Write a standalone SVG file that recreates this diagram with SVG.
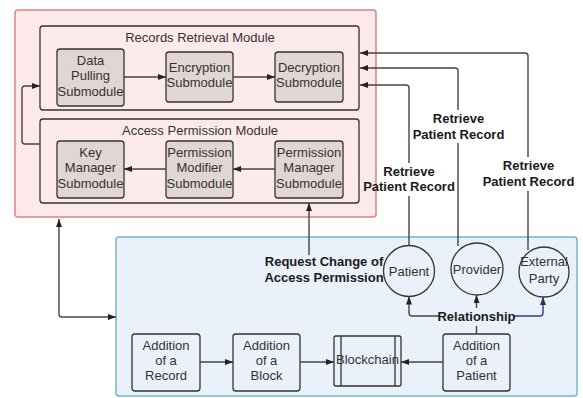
<svg xmlns="http://www.w3.org/2000/svg" width="583" height="398" viewBox="0 0 583 398">
<defs>
<marker id="ah" viewBox="0 0 8 6" refX="8" refY="3" markerWidth="8" markerHeight="6" markerUnits="userSpaceOnUse" orient="auto-start-reverse">
<path d="M0,0 L8,3 L0,6 z" fill="#222"/>
</marker>
<marker id="ahb" viewBox="0 0 8 6" refX="8" refY="3" markerWidth="8" markerHeight="6" markerUnits="userSpaceOnUse" orient="auto">
<path d="M0,0 L8,3 L0,6 z" fill="#2a2f6e"/>
</marker>
</defs>
<style>
text{font-family:"Liberation Sans",Arial,sans-serif;font-size:13px;fill:#333;text-anchor:middle}
.b{font-weight:bold;fill:#1a1a1a}
.mod{fill:#fdeaea;stroke:#333;stroke-width:1.3}
.sub{fill:#e2d6d4;stroke:#333;stroke-width:1.3}
.bn{fill:#eaf1fa;stroke:#333;stroke-width:1.3}
.c{fill:none;stroke:#444;stroke-width:1.4;marker-end:url(#ah)}
.l{fill:none;stroke:#444;stroke-width:1.4}
</style>
<rect id="outer" x="15" y="10" width="361" height="207" rx="3" fill="#fde9ea" stroke="#e08088" stroke-width="1.5"/>
<rect id="blue" x="116" y="237" width="461" height="159" rx="3" fill="#eaf1fa" stroke="#6fb6d2" stroke-width="1.5"/>

<g id="records-module">
<rect class="mod" x="40" y="26" width="319" height="84" rx="3"/>
<text x="200" y="42">Records Retrieval Module</text>
</g>
<g id="access-module">
<rect class="mod" x="40" y="119" width="319" height="84" rx="3"/>
<text x="200" y="134.5">Access Permission Module</text>
</g>
<g id="data-pulling">
<rect class="sub" x="57" y="49" width="67" height="57" rx="3"/>
<text x="90.5" y="64.5">Data</text><text x="90.5" y="80">Pulling</text><text x="90.5" y="95.5">Submodule</text>
</g>
<g id="encryption">
<rect class="sub" x="166" y="52" width="67" height="50" rx="3"/>
<text x="199.5" y="72">Encryption</text><text x="199.5" y="87">Submodule</text>
</g>
<g id="decryption">
<rect class="sub" x="275" y="52" width="68" height="50" rx="3"/>
<text x="309" y="72">Decryption</text><text x="309" y="87">Submodule</text>
</g>
<g id="key-manager">
<rect class="sub" x="57" y="141" width="67" height="57" rx="3"/>
<text x="90.5" y="157">Key</text><text x="90.5" y="172">Manager</text><text x="90.5" y="187.5">Submodule</text>
</g>
<g id="permission-modifier">
<rect class="sub" x="166" y="141" width="67" height="57" rx="3"/>
<text x="199.5" y="157">Permission</text><text x="199.5" y="172">Modifier</text><text x="199.5" y="187.5">Submodule</text>
</g>
<g id="permission-manager">
<rect class="sub" x="275" y="141" width="68" height="57" rx="3"/>
<text x="309" y="157">Permission</text><text x="309" y="172">Manager</text><text x="309" y="187.5">Submodule</text>
</g>

<g id="add-record">
<rect class="bn" x="132" y="334" width="68" height="57" rx="3"/>
<text x="166" y="349.5">Addition</text><text x="166" y="365">of a</text><text x="166" y="380">Record</text>
</g>
<g id="add-block">
<rect class="bn" x="233" y="334" width="67" height="57" rx="3"/>
<text x="266.5" y="349.5">Addition</text><text x="266.5" y="365">of a</text><text x="266.5" y="380">Block</text>
</g>
<g id="blockchain">
<rect class="bn" x="334" y="336" width="67" height="50" rx="2"/>
<line x1="341" y1="336" x2="341" y2="386" stroke="#333" stroke-width="1.3"/>
<line x1="395" y1="336" x2="395" y2="386" stroke="#333" stroke-width="1.3"/>
<text x="367.5" y="364">Blockchain</text>
</g>
<g id="add-patient">
<rect class="bn" x="443" y="334" width="67" height="57" rx="3"/>
<text x="476.5" y="349.5">Addition</text><text x="476.5" y="365">of a</text><text x="476.5" y="380">Patient</text>
</g>
<g id="patient">
<circle class="bn" cx="409" cy="271" r="25.5"/>
<text x="409" y="275.5">Patient</text>
</g>
<g id="provider">
<circle class="bn" cx="477" cy="269" r="26"/>
<text x="477" y="273.5">Provider</text>
</g>
<g id="external">
<circle class="bn" cx="544" cy="272" r="25"/>
<text x="544" y="266">External</text><text x="544" y="283">Party</text>
</g>

<g id="connectors">
<line class="c" x1="124" y1="77" x2="166" y2="77"/>
<line class="c" x1="233" y1="77" x2="275" y2="77"/>
<line class="c" x1="275" y1="169" x2="233" y2="169"/>
<line class="c" x1="166" y1="169" x2="124" y2="169"/>
<path class="c" d="M40,144 H25 Q22,144 22,141 V89 Q22,86 25,86 H40"/>
<path class="c" d="M59,219 V314 Q59,317 62,317 H116" marker-start="url(#ah)"/>
<path class="c" d="M409,245.5 V196 M409,163 V88 Q409,85 406,85 H360"/>
<path class="c" d="M458,246 V143 M458,110 V71 Q458,68 455,68 H360"/>
<path class="c" d="M528,250 V191 M528,157 V56 Q528,53 525,53 H360"/>
<line class="c" x1="309" y1="255" x2="309" y2="203"/>
<line class="c" x1="200" y1="362" x2="233" y2="362"/>
<line class="c" x1="300" y1="362" x2="334" y2="362"/>
<line class="c" x1="443" y1="362" x2="401" y2="362"/>
<line class="l" x1="476.5" y1="334" x2="476.5" y2="326"/>
<line class="c" x1="476.5" y1="308" x2="476.5" y2="295"/>
<path class="c" d="M440,316 H412 Q409,316 409,313 V296.5"/>
<path d="M513,316 H540 Q543,316 543,313 V297" fill="none" stroke="#3a3f78" stroke-width="1.4" marker-end="url(#ahb)"/>
</g>

<g id="labels">
<text class="b" x="409" y="176">Retrieve</text><text class="b" x="409" y="191">Patient Record</text>
<text class="b" x="458.5" y="123">Retrieve</text><text class="b" x="458.5" y="138.5">Patient Record</text>
<text class="b" x="528.5" y="170">Retrieve</text><text class="b" x="528.5" y="186">Patient Record</text>
<text class="b" x="324" y="266">Request Change of</text><text class="b" x="324" y="282">Access Permission</text>
<text class="b" x="476.5" y="320.5">Relationship</text>
</g>
</svg>
